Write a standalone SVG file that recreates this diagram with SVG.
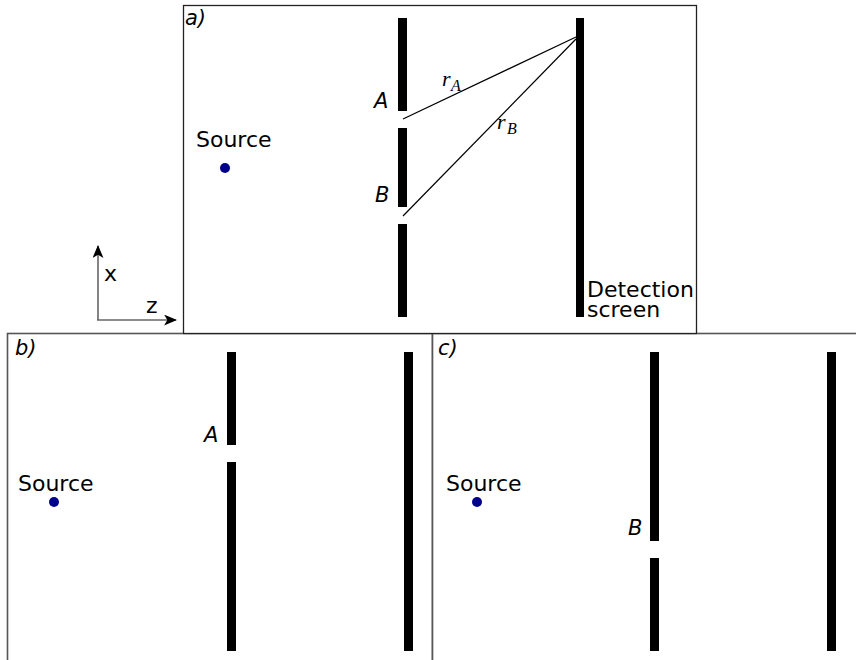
<svg xmlns="http://www.w3.org/2000/svg" width="856" height="660" viewBox="0 0 856 660">
<defs>
<style>
.lbl{font-family:"DejaVu Sans","Liberation Sans",sans-serif;font-size:22px;fill:#000}
.it{font-family:"DejaVu Sans","Liberation Sans",sans-serif;font-size:21px;font-style:oblique;fill:#000}
.math{font-family:"Liberation Serif","DejaVu Serif",serif;font-style:italic;fill:#000}
.bar{fill:#000}
.src{fill:#00008b}
.ray{stroke:#000;stroke-width:1.2;fill:none}
.frameBC{fill:#fff;stroke:#555;stroke-width:1.6}
.frameA{fill:#fff;stroke:#222;stroke-width:1.3}
.ax{stroke:#666;stroke-width:1.6;fill:none}
</style>
<marker id="arr" viewBox="0 0 12 10" refX="11" refY="5" markerWidth="13" markerHeight="11" markerUnits="userSpaceOnUse" orient="auto">
<path d="M0,0 L12,5 L0,10 L3,5 Z" fill="#000"/>
</marker>
</defs>

<g id="panel-b">
<rect class="frameBC" x="7.5" y="333.5" width="425" height="340"/>
<text class="it" x="15" y="355">b)</text>
<rect class="bar" x="227" y="352" width="9" height="93"/>
<rect class="bar" x="227" y="462" width="9" height="189"/>
<rect class="bar" x="404" y="352" width="9" height="299"/>
<text class="it" x="204" y="442">A</text>
<text class="lbl" x="18" y="491">Source</text>
<circle class="src" cx="54" cy="502" r="5"/>
</g>

<g id="panel-c">
<rect class="frameBC" x="432.5" y="333.5" width="440" height="340"/>
<text class="it" x="438" y="355">c)</text>
<rect class="bar" x="650" y="352" width="9" height="189"/>
<rect class="bar" x="650" y="558" width="9" height="93"/>
<rect class="bar" x="827" y="352" width="9" height="299"/>
<text class="it" x="628" y="535">B</text>
<text class="lbl" x="446" y="491">Source</text>
<circle class="src" cx="477" cy="502" r="5"/>
</g>

<g id="panel-a">
<rect class="frameA" x="183.5" y="5.5" width="513" height="328"/>
<text class="it" x="185" y="25">a)</text>
<rect class="bar" x="398" y="18" width="9" height="93"/>
<rect class="bar" x="398" y="128" width="9" height="79"/>
<rect class="bar" x="398" y="224" width="9" height="93"/>
<rect class="bar" x="576" y="18" width="8" height="299"/>
<text class="it" x="374" y="108">A</text>
<text class="it" x="375" y="202">B</text>
<text class="lbl" x="196" y="147">Source</text>
<circle class="src" cx="225" cy="168" r="5"/>
<text class="lbl" x="587" y="297" font-size="21.5">Detection</text>
<text class="lbl" x="587" y="317" font-size="21.5">screen</text>
</g>

<g id="connectors">
<line class="ray" x1="403" y1="119" x2="576" y2="37"/>
<line class="ray" x1="403" y1="216" x2="576" y2="39"/>
<text class="math" x="442" y="86" font-size="22">r</text>
<text class="math" x="451" y="91" font-size="16">A</text>
<text class="math" x="497" y="129" font-size="22">r</text>
<text class="math" x="507" y="134" font-size="16">B</text>
</g>

<g id="axes">
<line class="ax" x1="98" y1="320" x2="98" y2="246" marker-end="url(#arr)"/>
<line class="ax" x1="97" y1="320" x2="176" y2="320" marker-end="url(#arr)"/>
<text class="lbl" x="104" y="281" font-size="19">x</text>
<text class="lbl" x="146" y="313" font-size="19">z</text>
</g>
</svg>
